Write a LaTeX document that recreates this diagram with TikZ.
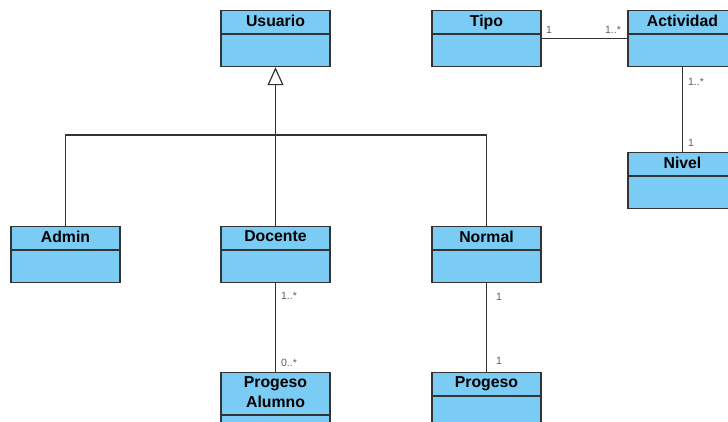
\documentclass[tikz,border=0pt]{standalone}
\usepackage{fontspec}
\setmainfont{Liberation Sans}
\usetikzlibrary{arrows.meta, positioning}
\definecolor{clsblue}{RGB}{122,204,245}
\definecolor{lblgray}{RGB}{95,95,95}

\begin{document}
\begin{tikzpicture}[x=1pt,y=-1pt,
    cls/.style={rectangle,draw=black!80,line width=1.1pt,fill=clsblue,minimum width=109pt,minimum height=23pt,inner sep=4pt,anchor=north,align=center,font=\bfseries\fontsize{15.8}{20}\selectfont},
    clsbody/.style={rectangle,draw=black!80,line width=1.1pt,fill=clsblue,minimum width=109pt,minimum height=32pt,inner sep=0pt},
    lbl/.style={font=\fontsize{10.5}{12}\selectfont,text=lblgray,inner sep=0pt},
    assoc/.style={draw=black!80,line width=1.2pt},
    gen/.style={assoc,-{Triangle[open,length=18pt,width=16pt]}}]
    \useasboundingbox (0,0) rectangle (728,421);
    % 画各个类框（标题 + 空的属性栏）
    \foreach \n/\x/\y/\t in {usuario/275.5/10/Usuario, tipo/486.5/10/Tipo, actividad/682.5/10/Actividad, nivel/682.5/152/Nivel, admin/65.5/226/Admin, docente/275.5/226/Docente, normal/486.5/226/Normal, progalumno/275.5/372/{Progeso\\Alumno}, progeso/486.5/372/Progeso} {
        \node[cls] (\n) at (\x,\y) {\t\vphantom{Tg}};
        \node[clsbody, below=0pt of \n] (\n-b) {};
    }
    % 继承关系
    \coordinate (bus) at (275.5,135);
    \draw[assoc] (admin.north) |- (bus) -| (normal.north);
    \draw[gen] (docente.north) -- (usuario-b.south);
    % 关联与多重性
    \draw[assoc] ([yshift=-4pt]tipo-b.north east) -- node[lbl,pos=0,anchor=south west,xshift=4pt,yshift=4pt] (m1) {1} node[lbl,pos=1,anchor=south east,xshift=-6pt,yshift=4pt] (m2) {1..*} ([yshift=-4pt]actividad-b.north west);
    \draw[assoc] (actividad-b.south) -- node[lbl,pos=0,anchor=north west,xshift=5pt,yshift=-10pt] (m3) {1..*} node[lbl,pos=1,anchor=south west,xshift=5pt,yshift=5pt] (m4) {1} (nivel.north);
    \draw[assoc] (docente-b.south) -- node[lbl,pos=0,anchor=north west,xshift=5pt,yshift=-8pt] (m5) {1..*} node[lbl,pos=1,anchor=south west,xshift=5pt,yshift=5pt] (m6) {0..*} (progalumno.north);
    \draw[assoc] (normal-b.south) -- node[lbl,pos=0,anchor=north west,xshift=9pt,yshift=-9pt] (m7) {1} node[lbl,pos=1,anchor=south west,xshift=9pt,yshift=7pt] (m8) {1} (progeso.north);
\end{tikzpicture}
\end{document}
